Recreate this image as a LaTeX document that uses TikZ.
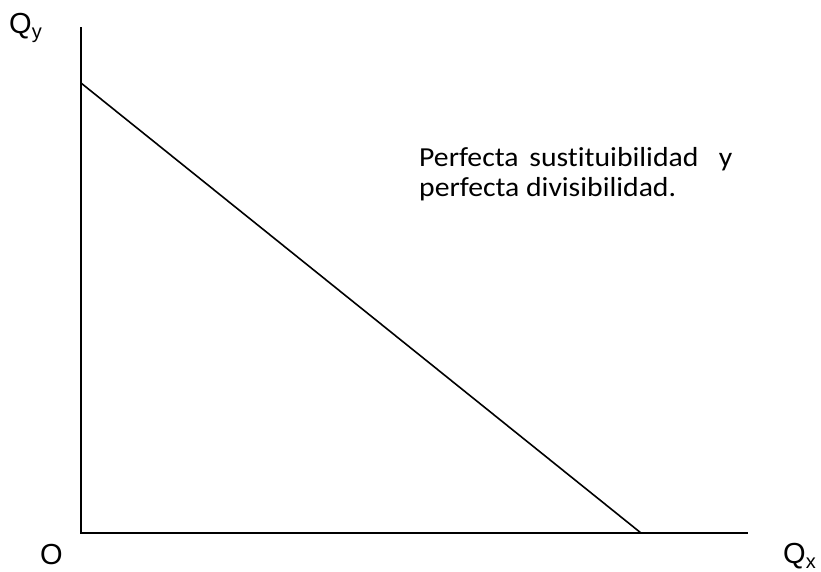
\documentclass[tikz,border=0pt]{standalone}
\usepackage{fontspec}
\setmainfont{Carlito}[Ligatures=NoCommon]
\newfontfamily\arialf{Liberation Sans}
\begin{document}
\begin{tikzpicture}[x=1pt,y=-1pt,
  axis/.style={line width=2.2pt},
  curve/.style={line width=1.6pt},
  axlabel/.style={font=\arialf\fontsize{29}{29}\selectfont, inner sep=0pt, anchor=base west},
  note/.style={font=\fontsize{27.5}{29}\selectfont, inner sep=0pt, anchor=base west}]
\useasboundingbox (0,0) rectangle (821,571);
\coordinate (top) at (81,27);
\coordinate (o) at (81,533);
\coordinate (right) at (748,533);
\coordinate (ystart) at (81,83);
\coordinate (xend) at (641,533);
\draw[axis, line join=miter] (top) -- (o) -- (right);
\draw[curve] (ystart) -- (xend);
\node[axlabel] (qy) at (9,33) {Q\raisebox{-5pt}{\fontsize{20}{20}\selectfont y}};
\node[axlabel] (qx) at (783,563) {Q\raisebox{-5pt}{\fontsize{20}{20}\selectfont x}};
\node[axlabel] (origin) at (40,564) {O};
\node[note] (l1) at (419,166) {\scalebox{1.08}[1]{Perfecta\hspace{10pt}sustituibilidad\hspace{19pt}y}};
\node[note] (l2) at (419,196) {\scalebox{1.08}[1]{perfecta divisibilidad.}};
\end{tikzpicture}
\end{document}
